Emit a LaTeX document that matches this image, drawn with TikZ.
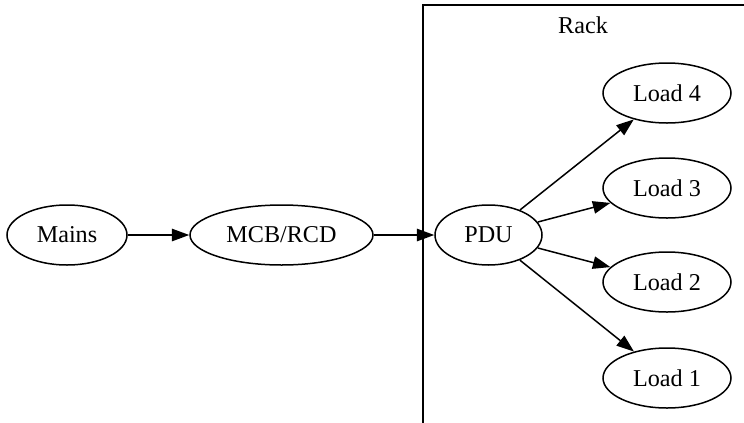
\documentclass[tikz,border=0pt]{standalone}
\usepackage{fontspec}
\setmainfont{Liberation Serif}
\usetikzlibrary{arrows.meta,shapes.geometric}
\begin{document}
\begin{tikzpicture}[x=0.6pt,y=-0.6pt,
  lbl/.style={font=\fontsize{14.5pt}{17pt}\selectfont},
  nd/.style={draw,ellipse,line width=0.9pt,inner sep=0pt,minimum height=36pt,lbl},
  conn/.style={line width=0.9pt,-{Triangle[length=10.5pt,width=7.5pt]}},
  framebox/.style={line width=0.9pt}]
\useasboundingbox (0,0) rectangle (744,422);
% cluster frame
\draw[framebox] (423,425) -- (423,5) -- (748,5);
\node[lbl] (rack) at (583,25) {Rack};
% nodes
\node[nd,minimum width=72pt] (mains) at (67,235) {Mains};
\node[nd,minimum width=109.8pt] (mcb) at (281.5,235) {MCB/RCD};
\node[nd,minimum width=64.2pt] (pdu) at (488.5,235) {PDU};
\node[nd,minimum width=76.8pt] (l4) at (667,93) {Load 4};
\node[nd,minimum width=76.8pt] (l3) at (667,188) {Load 3};
\node[nd,minimum width=76.8pt] (l2) at (667,282) {Load 2};
\node[nd,minimum width=76.8pt] (l1) at (667,378) {Load 1};
% connectors
\draw[conn] (mains) -- (mcb);
\draw[conn] (mcb) -- (pdu);
\draw[conn] (pdu) -- (l4);
\draw[conn] (pdu) -- (l3);
\draw[conn] (pdu) -- (l2);
\draw[conn] (pdu) -- (l1);
\end{tikzpicture}
\end{document}
